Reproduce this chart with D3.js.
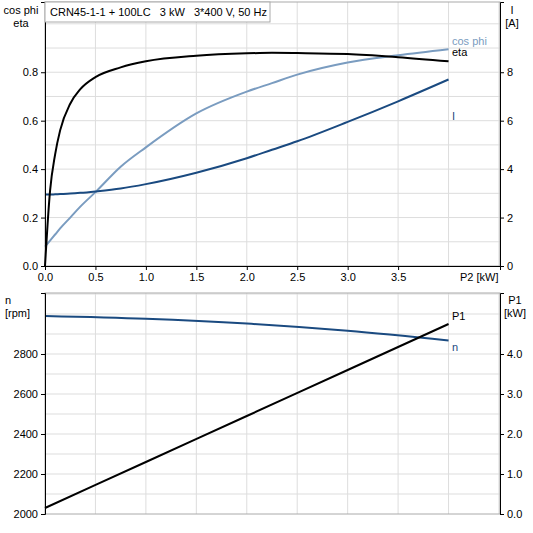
<!DOCTYPE html><html><head><script src="https://cdn.jsdelivr.net/npm/d3@7"></script>
<style>body{margin:0;background:#fff}text{font-family:"Liberation Sans",Arial,sans-serif;font-size:11px}</style></head><body><svg id="c" width="533" height="533"></svg><script>
const p2=[0,0.05,0.1,0.15,0.25,0.35,0.5,0.75,1,1.5,2,2.25,2.5,3,3.5,4];
const eta=[0,0.31,0.46,0.56,0.67,0.73,0.78,0.82,0.845,0.868,0.878,0.88,0.879,0.875,0.862,0.845];
const cosphi=[0.08,0.105,0.13,0.155,0.2,0.245,0.305,0.41,0.49,0.63,0.72,0.755,0.79,0.84,0.87,0.895];
const curI=[2.95,2.95,2.96,2.97,2.99,3.02,3.08,3.2,3.38,3.85,4.45,4.8,5.15,5.95,6.8,7.7];
const p2b=[0,1,2,3,4];
const nrpm=[2990,2976,2952,2916,2868];
const p1=[0.15,1.3,2.45,3.6,4.75];
const svg=d3.select("#c");
const L=45,R=500;
const x=d3.scaleLinear([0,4.51],[L,R]);
const yT=d3.scaleLinear([0,1.09],[266,2]);
const yI=d3.scaleLinear([0,10.9],[266,2]);
const yN=d3.scaleLinear([2000,3105],[514,293]);
const yP=d3.scaleLinear([0,5.525],[514,293]);
function grid(y0,y1,ys,vals){
 const g=svg.append("g").attr("stroke","#ddd").attr("stroke-width",1);
 d3.range(0.5,4.51,0.5).forEach(v=>g.append("line").attr("x1",x(v)).attr("x2",x(v)).attr("y1",y0).attr("y2",y1));
 vals.forEach(v=>g.append("line").attr("x1",L).attr("x2",R).attr("y1",ys(v)).attr("y2",ys(v)));
 svg.append("rect").attr("x",L).attr("y",y0).attr("width",R-L).attr("height",y1-y0).attr("fill","none").attr("stroke","#aaa");
}
grid(2,266,yT,d3.range(0.1,1.05,0.1));
grid(293,514,yN,d3.range(2100,3101,100));
const line=(ys,arr,xs)=>d3.line().x((d,i)=>x(xs[i])).y(d=>ys(d)).curve(d3.curveMonotoneX)(arr);
svg.append("path").attr("d",line(yT,cosphi,p2)).attr("fill","none").attr("stroke","#7a9cc0").attr("stroke-width",2);
svg.append("path").attr("d",line(yI,curI,p2)).attr("fill","none").attr("stroke","#1a4a80").attr("stroke-width",2);
svg.append("path").attr("d",line(yT,eta,p2)).attr("fill","none").attr("stroke","#000").attr("stroke-width",2);
svg.append("path").attr("d",line(yN,nrpm,p2b)).attr("fill","none").attr("stroke","#1a4a80").attr("stroke-width",2);
svg.append("path").attr("d",line(yP,p1,p2b)).attr("fill","none").attr("stroke","#000").attr("stroke-width",2);
const ax=(gen,tx,ty)=>svg.append("g").attr("transform",`translate(${tx},${ty})`).call(gen).call(g=>{g.select(".domain").attr("stroke","#000");g.selectAll("text").style("font-size","11px")});
ax(d3.axisLeft(yT).tickValues([0,0.2,0.4,0.6,0.8]).tickFormat(d3.format(".1f")).tickSize(4),L,0);
ax(d3.axisRight(yI).tickValues([0,2,4,6,8]).tickFormat(d3.format("d")).tickSize(4),R,0);
ax(d3.axisBottom(x).tickValues([0,0.5,1,1.5,2,2.5,3,3.5]).tickFormat(d3.format(".1f")).tickSize(4),0,266);
ax(d3.axisLeft(yN).tickValues([2000,2200,2400,2600,2800]).tickFormat(d3.format("d")).tickSize(4),L,0);
ax(d3.axisRight(yP).tickValues([0,1,2,3,4]).tickFormat(d3.format(".1f")).tickSize(4),R,0);
const t=(s,xx,yy,a,c)=>svg.append("text").attr("x",xx).attr("y",yy).attr("text-anchor",a||"start").attr("fill",c||"#000").text(s);
t("cos phi",21,14,"middle");t("eta",21,27,"middle");
t("I",512,14,"middle");t("[A]",512,27,"middle");
t("P2 [kW]",460,281);
t("n",5,304);t("[rpm]",5,317);
t("P1",515,304,"middle");t("[kW]",515,317,"middle");
svg.append("rect").attr("x",L).attr("y",2).attr("width",225).attr("height",20).attr("fill","#fff").attr("stroke","#aaa");
t("CRN45-1-1 + 100LC   3 kW   3*400 V, 50 Hz",50,16).style("white-space","pre");
t("cos phi",452,45,"start","#7a9cc0");t("eta",452,56);t("I",452,120,"start","#1a4a80");
t("P1",452,320);t("n",452,351,"start","#1a4a80");
</script></body></html>
